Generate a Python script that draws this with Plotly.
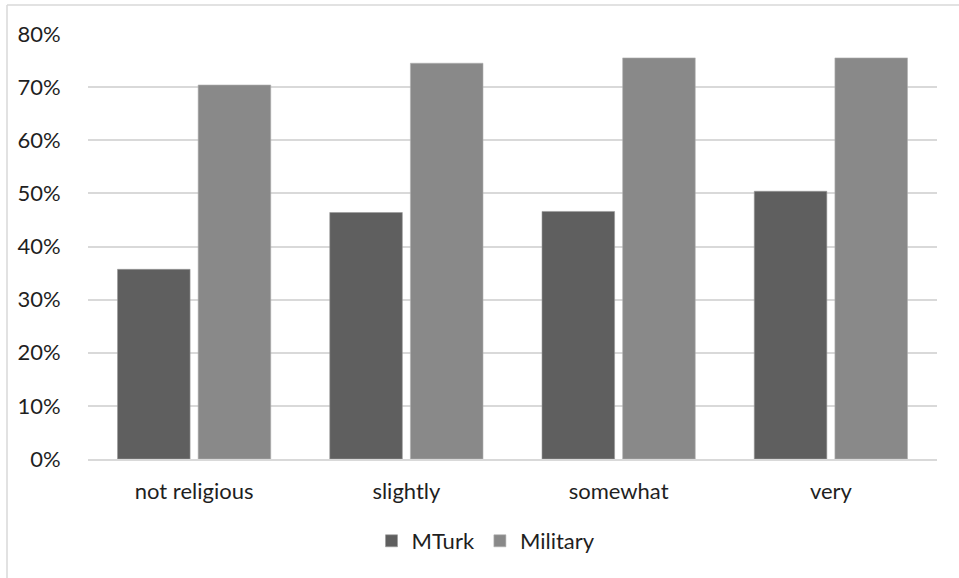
import plotly.graph_objects as go

categories = ["not religious", "slightly", "somewhat", "very"]
mturk = [0.357, 0.464, 0.466, 0.504]
military = [0.704, 0.745, 0.755, 0.755]
y_ticks = [0, 0.1, 0.2, 0.3, 0.4, 0.5, 0.6, 0.7, 0.8]
y_tick_labels = ["0%", "10%", "20%", "30%", "40%", "50%", "60%", "70%", "80%"]

W, H = 959, 578
L, R, T, B = 88, 22, 34, 119
pw, ph = W - L - R, H - T - B

font = dict(family="Lato, 'Open Sans', sans-serif", size=22, color="#1f1f1f")

fig = go.Figure()
fig.add_trace(go.Bar(x=categories, y=mturk, name="MTurk",
                     marker=dict(color="#5f5f5f", line=dict(color="#9a9a9a", width=0.6))))
fig.add_trace(go.Bar(x=categories, y=military, name="Military",
                     marker=dict(color="#898989", line=dict(color="#b0b0b0", width=0.6))))

# outer chart frame (top and left edges visible)
def px_x(v):
    return (v - L) / pw

def px_y(v):
    return (H - B - v) / ph

fig.add_shape(type="line", xref="paper", yref="paper",
              x0=px_x(7), x1=px_x(W + 5), y0=px_y(5), y1=px_y(5),
              line=dict(color="#d9d9d9", width=1.5))
fig.add_shape(type="line", xref="paper", yref="paper",
              x0=px_x(7), x1=px_x(7), y0=px_y(5), y1=px_y(H + 5),
              line=dict(color="#d9d9d9", width=1.5))

fig.update_layout(
    width=W, height=H,
    margin=dict(l=L, r=R, t=T, b=B, autoexpand=False),
    paper_bgcolor="white", plot_bgcolor="white",
    barmode="group", bargap=0.24, bargroupgap=0.1,
    font=font,
    showlegend=True,
    legend=dict(orientation="h", x=px_x(486), y=px_y(541),
                xanchor="center", yanchor="middle",
                font=font, itemwidth=30, traceorder="normal"),
    xaxis=dict(showgrid=False, showline=True, linecolor="#d9d9d9", linewidth=2,
               ticks="outside", ticklen=12, tickcolor="rgba(0,0,0,0)",
               tickfont=font),
    yaxis=dict(range=[0, 0.8], tickvals=y_ticks, ticktext=y_tick_labels,
               showgrid=True, gridcolor="#d9d9d9", gridwidth=1.5,
               zeroline=False, showline=False,
               ticks="outside", ticklen=22, tickcolor="rgba(0,0,0,0)",
               tickfont=font),
)

fig.write_html("out.html")
